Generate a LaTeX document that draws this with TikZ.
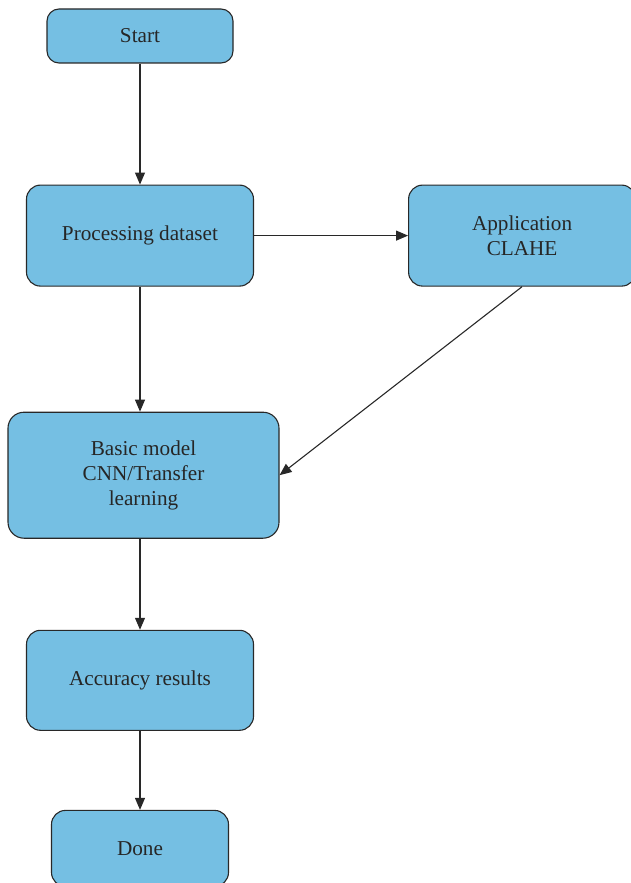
\documentclass[tikz,border=0pt]{standalone}
\usepackage{fontspec}
\setmainfont{Liberation Serif}
\usetikzlibrary{arrows.meta,positioning}
\definecolor{boxblue}{RGB}{117,191,227}
\definecolor{boxline}{RGB}{40,40,40}

\begin{document}
\begin{tikzpicture}[->,>={Triangle[length=6pt,width=5pt]},
	line width=0.55pt,draw=boxline,
	main node/.style={rectangle,rounded corners=7pt,draw=boxline,fill=boxblue,
		align=center,inner sep=0pt,font=\fontsize{10.6}{12.5}\selectfont,
		text=black!85}]
	
	\useasboundingbox (0,0) rectangle (315.5pt,-441.5pt);
	\clip (0,0) rectangle (315.5pt,-441.5pt);
	
	\node[main node,minimum width=93pt,minimum height=27pt,rounded corners=6pt] (start) at (70pt,-18pt) {Start};
	\node[main node,minimum width=113.5pt,minimum height=50.5pt] (proc) [below=60.5pt of start] {Processing dataset};
	\node[main node,minimum width=113.5pt,minimum height=50.5pt] (clahe) [right=77pt of proc] {Application\\CLAHE};
	\node[main node,minimum width=135.5pt,minimum height=63pt,rounded corners=8pt] (basic) [below=62.5pt of proc,xshift=1.75pt] {Basic model\\CNN/Transfer\\learning};
	\node[main node,minimum width=113.5pt,minimum height=50pt] (acc) [below=45.5pt of basic,xshift=-1.75pt] {Accuracy results};
	\node[main node,minimum width=88.5pt,minimum height=38pt] (done) [below=39.5pt of acc] {Done};
	
	\path
	(start) edge node {} (proc)
	(proc) edge node {} (clahe)
	(proc.south) edge node {} (proc.south |- basic.north)
	(clahe.south) edge node {} (basic.east)
	(basic.south -| acc.north) edge node {} (acc.north)
	(acc) edge node {} (done);
\end{tikzpicture}
\end{document}
